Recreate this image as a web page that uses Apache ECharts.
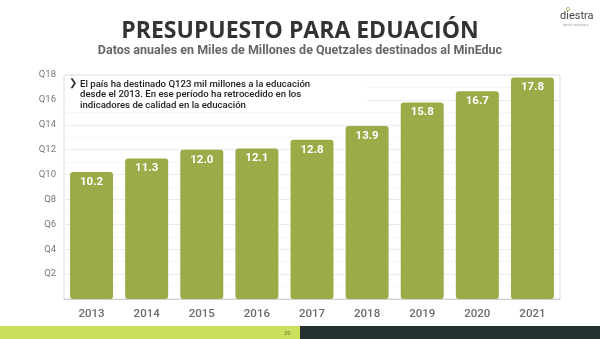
<!DOCTYPE html>
<html>
<head>
<meta charset="utf-8">
<script src="https://cdn.jsdelivr.net/npm/echarts@6/dist/echarts.min.js"></script>
<style>
  html, body { margin: 0; padding: 0; background: #fff; }
  #chart { width: 600px; height: 339px; }
</style>
</head>
<body>
<div id="chart"></div>
<script>
// Annual MinEduc budget, billions of quetzales
const years = ['2013', '2014', '2015', '2016', '2017', '2018', '2019', '2020', '2021'];
const budget = [10.2, 11.3, 12.0, 12.1, 12.8, 13.9, 15.8, 16.7, 17.8];
const yTicks = [0, 2, 4, 6, 8, 10, 12, 14, 16, 18];

const titleText = 'PRESUPUESTO PARA EDUACIÓN';
const subtitleText = 'Datos anuales en Miles de Millones de Quetzales destinados al MinEduc';
const noteLines = [
  'El país ha destinado Q123 mil millones a la educación',
  'desde el 2013. En ese período ha retrocedido en los',
  'indicadores de calidad en la educación'
];
const pageNumber = '39';

const chart = echarts.init(document.getElementById('chart'));
const FONT = 'Roboto, "Noto Sans", sans-serif';
const TITLE_FONT = '"Open Sans", Roboto, sans-serif';

chart.setOption({
  animation: false,
  backgroundColor: '#ffffff',
  grid: {
    left: 64, right: 40, top: 75, bottom: 40,
    show: true, borderColor: '#dcdcdc', borderWidth: 1, backgroundColor: 'transparent'
  },
  xAxis: {
    type: 'category',
    data: years,
    axisLine: { show: true, lineStyle: { color: '#cfcfcf' } },
    axisTick: { show: false },
    axisLabel: { color: '#6b6b6b', fontFamily: FONT, fontSize: 11.5, fontWeight: 500, margin: 9 }
  },
  yAxis: {
    type: 'value',
    min: yTicks[0],
    max: yTicks[yTicks.length - 1],
    interval: 2,
    axisLine: { show: false },
    axisTick: { show: false },
    splitLine: { lineStyle: { color: '#ececec' } },
    minorTick: { show: false, splitNumber: 2 },
    minorSplitLine: { show: true, lineStyle: { color: '#f6f6f6' } },
    axisLabel: {
      color: '#777777', fontFamily: FONT, fontSize: 9.5, margin: 8,
      formatter: v => (v === 0 ? '' : 'Q' + v)
    }
  },
  series: [{
    type: 'bar',
    data: budget,
    barCategoryGap: '22%',
    itemStyle: { color: '#9aab48', borderRadius: 3 },
    label: {
      show: true,
      position: 'insideTop',
      distance: 4,
      color: '#ffffff',
      fontFamily: FONT,
      fontWeight: 'bold',
      fontSize: 11.5,
      formatter: p => p.value.toFixed(1)
    }
  }],
  graphic: [
    // heading
    {
      type: 'text', x: 300, y: 31, z: 11,
      style: {
        text: titleText, fill: '#333333', font: 'bold 23px ' + TITLE_FONT,
        textAlign: 'center', textVerticalAlign: 'middle'
      }
    },
    {
      type: 'text', x: 300, y: 51, z: 11,
      style: {
        text: subtitleText, fill: '#666666', font: 'bold 12.5px ' + FONT,
        textAlign: 'center', textVerticalAlign: 'middle'
      }
    },
    // annotation panel
    {
      type: 'rect', left: 67, top: 78, z: 10,
      shape: { width: 300, height: 34 },
      style: { fill: '#ffffff' }
    },
    {
      type: 'text', left: 69, top: 78, z: 11,
      style: { text: '❯', fill: '#333333', font: 'bold 10px "DejaVu Sans", sans-serif' }
    },
    {
      type: 'text', left: 80, top: 79, z: 11,
      style: {
        text: noteLines.join('\n'),
        fill: '#222222',
        font: '500 9.6px ' + FONT,
        lineHeight: 10.6
      }
    },
    // brand mark
    {
      type: 'circle', z: 11,
      shape: { cx: 568, cy: 9, r: 1.6 },
      style: { fill: 'none', stroke: '#9aab48', lineWidth: 0.8 }
    },
    {
      type: 'text', left: 560, top: 11, z: 11,
      style: { text: 'diestra', fill: '#444444', font: '11px ' + FONT }
    },
    {
      type: 'text', left: 563, top: 24, z: 11,
      style: { text: 'gestión estratégica', fill: '#aaaaaa', font: '3px ' + FONT }
    },
    // footer band
    {
      type: 'rect', left: 0, top: 326, z: 1,
      shape: { width: 300, height: 13 },
      style: { fill: '#cde05e' }
    },
    {
      type: 'rect', left: 300, top: 326, z: 1,
      shape: { width: 300, height: 13 },
      style: { fill: '#23302f' }
    },
    {
      type: 'text', left: 284, top: 330, z: 2,
      style: { text: pageNumber, fill: '#6f7a3a', font: '6px ' + FONT }
    }
  ]
});
</script>
</body>
</html>
